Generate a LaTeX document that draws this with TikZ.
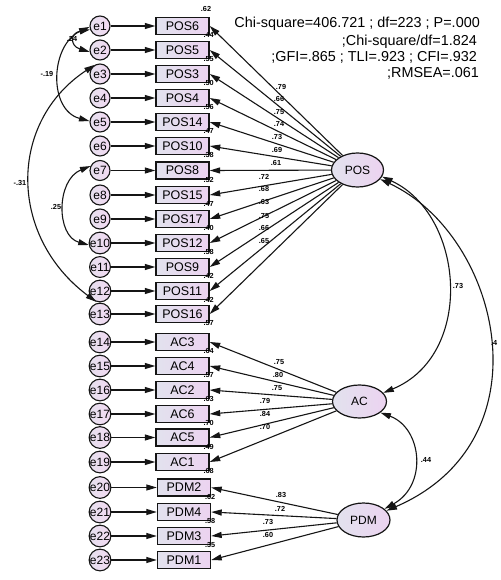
\documentclass[tikz,border=0pt]{standalone}
\usepackage{fontspec}
\setmainfont{Liberation Sans}
\usetikzlibrary{arrows.meta,shapes.geometric}
\definecolor{boxL}{HTML}{E2E2EE}
\definecolor{boxR}{HTML}{ECD3F0}
\definecolor{cirL}{HTML}{E6E0EE}
\definecolor{cirR}{HTML}{F2D9F2}
\definecolor{ln}{HTML}{151515}
\tikzset{
  arr/.style={draw=ln, line width=1.1pt, -{Triangle[length=10.5pt,width=6pt]}},
  dbl/.style={draw=ln, line width=1.1pt, {Triangle[length=10.5pt,width=6pt]}-{Triangle[length=10.5pt,width=6pt]}},
  err/.style={circle, draw=ln, line width=1.1pt, minimum size=20pt, inner sep=0pt,
    left color=cirL, right color=cirR, font=\fontsize{12}{12}\selectfont},
  obs/.style={rectangle, draw=ln, line width=1.4pt, minimum width=53pt, minimum height=17pt,
    inner sep=0pt, left color=boxL, right color=boxR, font=\fontsize{12.5}{12.5}\selectfont},
  lat/.style={ellipse, draw=ln, line width=1.2pt, inner sep=0pt, minimum width=52pt,
    minimum height=34pt, left color=boxL, right color=boxR, font=\fontsize{12}{12}\selectfont},
  num/.style={font=\bfseries\fontsize{7.3}{7.3}\selectfont, inner sep=0pt},
  stat/.style={font=\fontsize{14.4}{14.4}\selectfont, inner sep=0pt, anchor=base east},
}
\begin{document}
\begin{tikzpicture}[x=1pt,y=-1pt]
\useasboundingbox (0,0) rectangle (500,580);
\fill[white] (0,0) rectangle (500,580);

% observed variables with error terms
\foreach \i/\y/\bx/\nm in {1/26/182.5/POS6, 2/50/182.5/POS5, 3/74/182.5/POS3, 4/98/182.5/POS4,
  5/122/182.5/POS14, 6/146/182.5/POS10, 7/170.5/182.5/POS8, 8/195/182.5/POS15,
  9/219/182.5/POS17, 10/243/182.5/POS12, 11/267/182.5/POS9, 12/291/182.5/POS11,
  13/314/182.5/POS16, 14/342/182.5/AC3, 15/366/182.5/AC4, 16/390/182.5/AC2,
  17/414/182.5/AC6, 18/437.5/182.5/AC5, 19/462/182.5/AC1, 20/487.5/184/PDM2,
  21/512/184/PDM4, 22/536/184/PDM3, 23/560/184/PDM1} {
  \node[err] (e\i) at (100,\y) {e\i};
  \node[obs] (b\i) at (\bx,\y) {\nm};
  \draw[arr] (e\i) -- (b\i);
}

% squared multiple correlations
\node[num] (r0) at (206,9) {.62};
\foreach \i/\v in {1/.44, 2/.55, 3/.50, 4/.56, 5/.47, 6/.38, 7/.52, 8/.47, 9/.40,
  10/.58, 11/.42, 12/.42, 13/.57, 14/.64, 15/.57, 16/.63, 17/.70, 18/.49, 19/.68,
  20/.62, 21/.58, 22/.35} {
  \node[num] (r\i) at ([xshift=-1pt]b\i.south east) {\v};
}

% latent variables
\node[lat] (POS) at (357.5,170) {POS};
\node[lat, minimum width=54pt, minimum height=33pt] (AC) at (359.5,401.5) {AC};
\node[lat, minimum width=53pt] (PDM) at (363.5,520) {PDM};

% loadings
\foreach \i in {1,...,13} { \draw[arr] (POS) -- (b\i.east); }
\foreach \i in {14,...,19} { \draw[arr] (AC) -- (b\i.east); }
\foreach \i in {20,...,23} { \draw[arr] (PDM) -- (b\i.east); }

\foreach \j/\x/\y/\v in {1/281/87/.79, 2/279/99/.66, 3/279/112/.75, 4/279/124/.74,
  5/277/137/.73, 6/277/150/.69, 7/276/163/.61, 8/264/177/.72, 9/264/189/.68,
  10/264/202/.63, 11/264/216/.75, 12/264/228/.66, 13/264/241/.65,
  14/279/362/.75, 15/278/375/.80, 16/277/388/.75, 17/265/401/.79, 18/265/414/.84,
  19/265/427/.70, 20/281/495/.83, 21/280/509/.72, 22/268/522/.73, 23/268/535/.60} {
  \node[num] (l\j) at (\x,\y) {\v};
}

% error covariances
\draw[dbl] (e1.200) .. controls (70,33) and (70,46) .. (e2.190);
\draw[dbl] (e1.185) .. controls (50,45) and (48,110) .. (e5.175);
\draw[dbl] (e3.120) .. controls (8,122) and (8,236) .. (e12.250);
\draw[dbl] (e7.155) .. controls (56,180) and (56,236) .. (e10.190);
\node[num] (c1) at (72,39) {.24};
\node[num] (c2) at (47,74) {-.19};
\node[num] (c3) at (20,183) {-.31};
\node[num] (c4) at (56,207) {.25};

% latent covariances
\draw[dbl] (POS.-15) .. controls (465,215) and (475,355) .. (AC.20);
\draw[dbl] (POS.-22) .. controls (500,235) and (550,440) .. (PDM.22);
\draw[dbl] (AC.-28) .. controls (422,428) and (428,485) .. (PDM.28);
\node[num] (c5) at (458,286) {.73};
\node[num, anchor=west] (c6) at (491,343) {.4};
\node[num] (c7) at (426,460) {.44};

% fit statistics
\node[stat] (s1) at (480,28) {Chi-square=406.721 ; df=223 ; P=.000};
\node[stat] (s2) at (477,45.5) {;Chi-square/df=1.824};
\node[stat] (s3) at (477,62) {;GFI=.865 ; TLI=.923 ; CFI=.932};
\node[stat] (s4) at (479,77.5) {;RMSEA=.061};
\end{tikzpicture}
\end{document}
